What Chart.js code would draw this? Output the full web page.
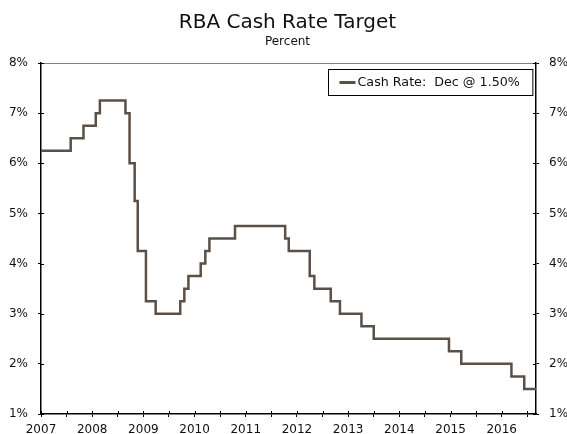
<!DOCTYPE html>
<html>
<head>
<meta charset="utf-8">
<title>RBA Cash Rate Target</title>
<script src="https://cdn.jsdelivr.net/npm/chart.js@4.4.0/dist/chart.umd.min.js"></script>
<style>
    html, body { margin: 0; padding: 0; background: #fff; }
    #wrap { width: 567px; height: 434px; }
</style>
</head>
<body>
<div id="wrap"><canvas id="rbaChart" width="567" height="434"></canvas></div>
<script>
// Cash rate changes (decimal year where each level starts)
const changeYears = [2007.0, 2007.58, 2007.83, 2008.07, 2008.15, 2008.65, 2008.73, 2008.83, 2008.89,
    2009.05, 2009.24, 2009.72, 2009.80, 2009.88, 2010.12, 2010.21, 2010.29, 2010.79,
    2011.77, 2011.84, 2012.25, 2012.34, 2012.66, 2012.84, 2013.26, 2013.50,
    2014.97, 2015.21, 2016.19, 2016.44, 2016.67];
const cashRates = [6.25, 6.5, 6.75, 7.0, 7.25, 7.0, 6.0, 5.25, 4.25,
    3.25, 3.0, 3.25, 3.5, 3.75, 4.0, 4.25, 4.5, 4.75,
    4.5, 4.25, 3.75, 3.5, 3.25, 3.0, 2.75, 2.5,
    2.25, 2.0, 1.75, 1.5, 1.5];
const yearTicks = [2007, 2008, 2009, 2010, 2011, 2012, 2013, 2014, 2015, 2016];
const percentTicks = [1, 2, 3, 4, 5, 6, 7, 8];
const seriesLabel = 'Cash Rate:  Dec @ 1.50%';

const lineColor = '#5b5047';

Chart.defaults.font.family = '"DejaVu Sans", Verdana, sans-serif';
Chart.defaults.color = '#111';

// Small tick marks inside the plot, plus the grey top edge
const frameTicks = {
    id: 'frameTicks',
    afterDraw(chart) {
        const { ctx, chartArea: a, scales } = chart;
        ctx.save();
        ctx.strokeStyle = '#808080';
        ctx.lineWidth = 1;
        ctx.beginPath();
        ctx.moveTo(a.left, Math.round(a.top) + 0.5);
        ctx.lineTo(a.right, Math.round(a.top) + 0.5);
        ctx.stroke();

        ctx.strokeStyle = '#000';
        ctx.beginPath();
        scales.x.ticks.forEach((t, i) => {
            const px = Math.round(scales.x.getPixelForTick(i)) + 0.5;
            ctx.moveTo(px, a.bottom);
            ctx.lineTo(px, a.bottom - 3);
        });
        scales.y.ticks.forEach((t, i) => {
            const py = Math.round(scales.y.getPixelForTick(i)) + 0.5;
            ctx.moveTo(a.left, py);
            ctx.lineTo(a.left + 3, py);
        });
        scales.y2.ticks.forEach((t, i) => {
            const py = Math.round(scales.y2.getPixelForTick(i)) + 0.5;
            ctx.moveTo(a.right, py);
            ctx.lineTo(a.right - 3, py);
        });
        ctx.stroke();
        ctx.restore();
    }
};

// Boxed legend in the top right corner of the plot
const boxLegend = {
    id: 'boxLegend',
    afterDraw(chart) {
        const { ctx, chartArea: a } = chart;
        const ds = chart.data.datasets[0];
        ctx.save();
        ctx.font = '12.7px "DejaVu Sans", Verdana, sans-serif';
        const textW = ctx.measureText(ds.label).width;
        const w = 11 + 16 + 2 + textW + 13;
        const h = 26;
        const x = Math.round(a.right - 4 - w) + 0.5;
        const y = Math.round(a.top + 6) + 0.5;
        ctx.fillStyle = '#fff';
        ctx.fillRect(x, y, w, h);
        ctx.strokeStyle = '#000';
        ctx.lineWidth = 1;
        ctx.strokeRect(x, y, w, h);
        ctx.strokeStyle = ds.borderColor;
        ctx.lineWidth = 3;
        ctx.beginPath();
        ctx.moveTo(x + 11, y + h / 2);
        ctx.lineTo(x + 27, y + h / 2);
        ctx.stroke();
        ctx.fillStyle = '#111';
        ctx.textBaseline = 'middle';
        ctx.fillText(ds.label, x + 29, y + h / 2);
        ctx.restore();
    }
};

const yAxis = (position, width) => ({
    type: 'linear',
    position: position,
    min: percentTicks[0],
    max: percentTicks[percentTicks.length - 1],
    afterFit: s => { s.width = width; },
    afterBuildTicks: s => { s.ticks = percentTicks.map(v => ({ value: v })); },
    ticks: {
        padding: 10,
        font: { size: 12 },
        callback: v => v + '%'
    },
    grid: { drawOnChartArea: false, tickLength: 3, color: '#000' },
    border: { color: '#000', width: 1.5 }
});

const ctx = document.getElementById('rbaChart').getContext('2d');
new Chart(ctx, {
    type: 'line',
    data: {
        datasets: [{
            label: seriesLabel,
            data: changeYears.map((yr, i) => ({ x: yr, y: cashRates[i] })),
            borderColor: lineColor,
            borderWidth: 2.5,
            stepped: true,
            pointRadius: 0,
            fill: false,
            yAxisID: 'y'
        }]
    },
    options: {
        responsive: false,
        animation: false,
        layout: { padding: { left: 8, right: 0, top: 0, bottom: 0 } },
        plugins: {
            legend: { display: false },
            tooltip: { enabled: false },
            title: {
                display: true,
                text: 'RBA Cash Rate Target',
                font: { size: 20, weight: 'normal' },
                color: '#111',
                padding: { top: 11, bottom: 0 }
            },
            subtitle: {
                display: true,
                text: 'Percent',
                font: { size: 12, weight: 'normal' },
                color: '#111',
                padding: { top: 0, bottom: 13.6 }
            }
        },
        scales: {
            x: {
                type: 'linear',
                position: 'bottom',
                min: yearTicks[0],
                max: changeYears[changeYears.length - 1],
                afterFit: s => { s.height = 20; },
                ticks: {
                    stepSize: 0.5,
                    includeBounds: false,
                    autoSkip: false,
                    maxRotation: 0,
                    padding: 6,
                    font: { size: 12 },
                    callback: v => yearTicks.includes(v) ? String(v) : ''
                },
                grid: { drawOnChartArea: false, tickLength: 3, color: '#000' },
                border: { color: '#000', width: 1.5 }
            },
            y: yAxis('left', 33),
            y2: yAxis('right', 31)
        }
    },
    plugins: [frameTicks, boxLegend]
});
</script>
</body>
</html>
